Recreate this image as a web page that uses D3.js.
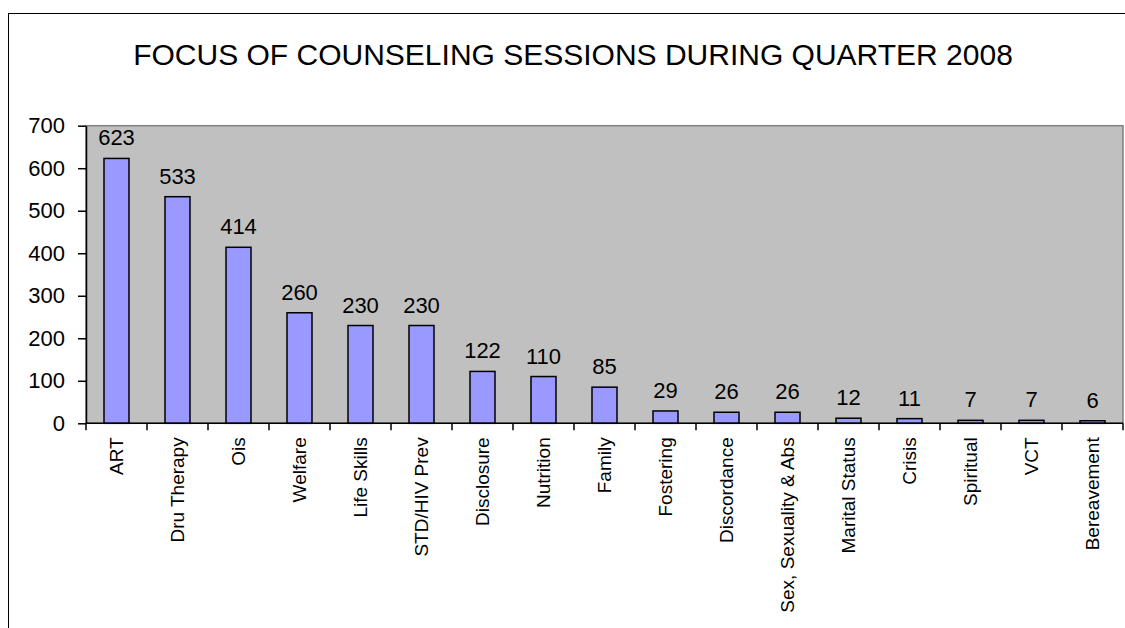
<!DOCTYPE html>
<html><head><meta charset="utf-8">
<script src="https://cdn.jsdelivr.net/npm/d3@7"></script>
<style>body{margin:0;background:#fff}svg{display:block}text{font-family:"Liberation Sans",Arial,sans-serif}</style>
</head><body>
<svg id="c" width="1125" height="628"></svg>
<script>
const categories = ["ART","Dru Therapy","Ois","Welfare","Life Skills","STD/HIV Prev","Disclosure","Nutrition","Family","Fostering","Discordance","Sex, Sexuality & Abs","Marital Status","Crisis","Spiritual","VCT","Bereavement"];
const values = [623,533,414,260,230,230,122,110,85,29,26,26,12,11,7,7,6];
const yTicks = [0,100,200,300,400,500,600,700];
const title = "FOCUS OF COUNSELING SESSIONS DURING QUARTER 2008";

const svg = d3.select("#c");
const L = 86, R = 1123, T = 125.7, B = 423.3;

// outer frame
svg.append("rect").attr("x",8.5).attr("y",13.5).attr("width",1200).attr("height",700)
  .attr("fill","#fff").attr("stroke","#000").attr("stroke-width",1);

svg.append("text").attr("x",573).attr("y",65).attr("text-anchor","middle")
  .attr("font-size",30).attr("fill","#000").text(title);

const xb = d3.scaleBand().domain(categories).range([L,R]);
const y = d3.scaleLinear().domain([0,700]).range([B,T]);

svg.append("rect").attr("x",L).attr("y",T).attr("width",R-L).attr("height",B-T)
  .attr("fill","#C0C0C0").attr("stroke","#808080").attr("stroke-width",1.5);

svg.selectAll("rect.bar").data(values).enter().append("rect").attr("class","bar")
  .attr("x",(d,i)=>xb(categories[i])+xb.bandwidth()/2-12.5)
  .attr("width",25)
  .attr("y",d=>y(d)).attr("height",d=>B-y(d))
  .attr("fill","#9999FF").attr("stroke","#000").attr("stroke-width",1.5);

svg.selectAll("text.val").data(values).enter().append("text").attr("class","val")
  .attr("x",(d,i)=>xb(categories[i])+xb.bandwidth()/2)
  .attr("y",d=>y(d)-13).attr("text-anchor","middle").attr("font-size",22).attr("fill","#000")
  .text(d=>d);

// y axis
const ya = svg.append("g").attr("transform",`translate(${L},0)`)
  .call(d3.axisLeft(y).tickValues(yTicks).tickSize(8).tickSizeOuter(0).tickPadding(13));
ya.select(".domain").attr("stroke","#000").attr("stroke-width",1.5);
ya.selectAll(".tick line").attr("stroke","#000").attr("stroke-width",1.5);
ya.selectAll(".tick text").attr("font-size",22).attr("fill","#000").attr("font-family","Liberation Sans, Arial, sans-serif");

// x axis
const xa = svg.append("g").attr("transform",`translate(0,${B})`);
xa.append("line").attr("x1",L).attr("x2",R).attr("stroke","#000").attr("stroke-width",1.5);
const bounds = categories.map(c=>xb(c)).concat([R]);
xa.selectAll("line.tk").data(bounds).enter().append("line").attr("class","tk")
  .attr("x1",d=>d).attr("x2",d=>d).attr("y1",0).attr("y2",7).attr("stroke","#000").attr("stroke-width",1.5);
xa.selectAll("text.lab").data(categories).enter().append("text").attr("class","lab")
  .attr("transform",d=>`translate(${xb(d)+xb.bandwidth()/2+6.5},14) rotate(-90)`)
  .attr("text-anchor","end").attr("font-size",19).attr("fill","#000").text(d=>d);
</script>
</body></html>
